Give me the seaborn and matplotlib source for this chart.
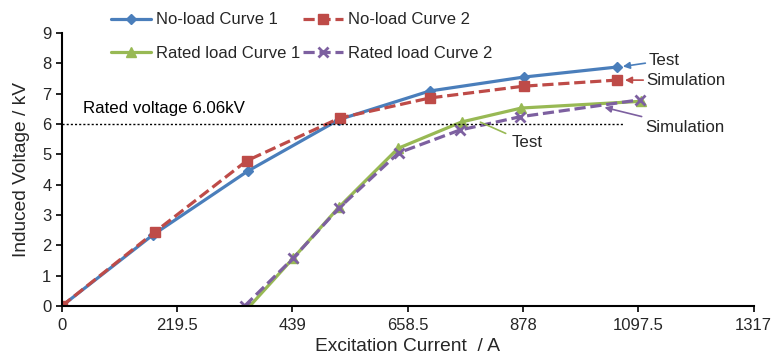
import matplotlib
matplotlib.use("Agg")
import matplotlib.pyplot as plt
import seaborn as sns
import pandas as pd

# Data
noload_x1 = [0, 173, 354, 528, 700, 879, 1056]
noload_y1 = [0, 2.34, 4.45, 6.15, 7.09, 7.55, 7.88]
noload_x2 = [0, 177, 352, 529, 700, 879, 1056]
noload_y2 = [0, 2.44, 4.79, 6.20, 6.86, 7.25, 7.45]
rated_x1 = [358, 440, 527, 640, 761, 875, 1102]
rated_y1 = [0, 1.57, 3.25, 5.20, 6.07, 6.53, 6.75]
rated_x2 = [348, 440, 527, 641, 757, 872, 1100]
rated_y2 = [0, 1.57, 3.22, 5.05, 5.80, 6.24, 6.80]
series_names = ["No-load Curve 1", "No-load Curve 2", "Rated load Curve 1", "Rated load Curve 2"]
x_ticks = [0, 219.5, 439, 658.5, 878, 1097.5, 1317]
x_tick_labels = ["0", "219.5", "439", "658.5", "878", "1097.5", "1317"]
y_ticks = [0, 1, 2, 3, 4, 5, 6, 7, 8, 9]
rated_voltage = 6.0

sns.set_theme(style="white")
plt.rcParams['font.family'] = ['Liberation Sans', 'DejaVu Sans']

fig = plt.figure(figsize=(7.73, 3.6), dpi=100)
ax = fig.add_axes([0.080, 0.150, 0.895, 0.758])

colors = ["#4A7EBB", "#BE4B48", "#98B954", "#7D60A0"]
styles = [
    dict(marker="D", markersize=5.5, linestyle="-"),
    dict(marker="s", markersize=7.5, linestyle=(0, (3.5, 1.5))),
    dict(marker="^", markersize=7.5, linestyle="-"),
    dict(marker="x", markersize=7.5, markeredgewidth=2, linestyle=(0, (3.5, 1.5))),
]
xs = [noload_x1, noload_x2, rated_x1, rated_x2]
ys = [noload_y1, noload_y2, rated_y1, rated_y2]
for name, x, y, c, st in zip(series_names, xs, ys, colors, styles):
    df = pd.DataFrame({"x": x, "y": y})
    sns.lineplot(data=df, x="x", y="y", ax=ax, sort=False, color=c, linewidth=2.3,
                 marker=st["marker"], markersize=st["markersize"],
                 markeredgewidth=st.get("markeredgewidth", 1), markeredgecolor=c,
                 linestyle=st["linestyle"], label=name)

# Rated voltage line
ax.plot([0, 1070], [rated_voltage, rated_voltage], color="black", linestyle=(0, (1.5, 1.5)), linewidth=1)
ax.text(40, 6.35, "Rated voltage 6.06kV", fontsize=12.2, color="black")

ax.set_xlim(0, 1317)
ax.set_ylim(0, 9)
ax.set_xticks(x_ticks)
ax.set_xticklabels(x_tick_labels)
ax.set_yticks(y_ticks)
ax.tick_params(axis="both", labelsize=12, direction="out", length=4, width=1.2,
               color="black", left=True, bottom=True)
ax.tick_params(axis="x", pad=5)
for s in ["top", "right"]:
    ax.spines[s].set_visible(False)
for s in ["left", "bottom"]:
    ax.spines[s].set_color("black")
    ax.spines[s].set_linewidth(1.5)
ax.set_xlabel("Excitation Current  / A", fontsize=13.8, labelpad=3)
ax.set_ylabel("Induced Voltage / kV", fontsize=13.8, labelpad=9)

# Annotations
fs = 12.2
arrow = lambda c: dict(arrowstyle="-|>", color=c, lw=1.2, mutation_scale=10, shrinkA=0, shrinkB=0)
ax.annotate("Test", xy=(1068, 7.9), xytext=(1117, 8.1), fontsize=fs, va="center",
            arrowprops=arrow(colors[0]))
ax.annotate("Simulation", xy=(1072, 7.45), xytext=(1113, 7.45), fontsize=fs, va="center",
            arrowprops=arrow(colors[1]))
ax.annotate("Test", xy=(792, 6.1), xytext=(856, 5.38), fontsize=fs, va="center",
            arrowprops=dict(arrowstyle="-", color=colors[2], lw=1.2))
ax.annotate("Simulation", xy=(1033, 6.55), xytext=(1110, 5.9), fontsize=fs, va="center",
            arrowprops=arrow(colors[3]))

h, l = ax.get_legend_handles_labels()
order = [0, 2, 1, 3]
leg = ax.legend([h[i] for i in order], [l[i] for i in order], loc="upper left",
                bbox_to_anchor=(0.061, 1.10), ncol=2, frameon=False,
                fontsize=12, handlelength=2.4, handletextpad=0.3, columnspacing=0.2,
                labelspacing=1.1, borderaxespad=0)

fig.savefig("out.png", dpi=100)
